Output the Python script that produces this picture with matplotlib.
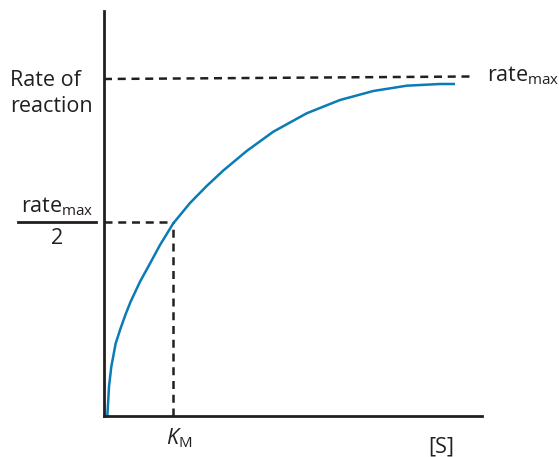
import matplotlib
matplotlib.use("Agg")
import matplotlib.pyplot as plt

plt.rcParams['font.family'] = ['Open Sans', 'DejaVu Sans']
plt.rcParams['mathtext.fontset'] = 'custom'
plt.rcParams['mathtext.rm'] = 'Open Sans'
plt.rcParams['mathtext.it'] = 'Open Sans:italic'

# curve values (substrate concentration vs rate)
substrate = [3.3, 4.2, 5.0, 7.3, 11.7, 16.7, 21.7, 26.7, 36, 46, 56, 69.3, 86, 102.7, 119.3,
             142.7, 169.3, 202.7, 236, 269.3, 302.7, 336, 351]
rate = [0, 15, 29.3, 49.3, 72.7, 88, 102, 114.5, 134.3, 152.5, 171, 192.7, 213, 230, 245.5,
        265, 284.3, 302.7, 316, 325, 330.3, 332, 332]

rate_max_line = [337, 339.5]   # dashed line at left / right end
rate_max_x = [0, 366]
km = 69.3
half_rate = 194

W, H = 559, 457
fig = plt.figure(figsize=(W / 100, H / 100), dpi=100)
x0, x1, y0, y1 = 104, 482, 416, 11
ax = fig.add_axes([x0 / W, (H - y0) / H, (x1 - x0) / W, (y0 - y1) / H])
ax.set_xlim(0, x1 - x0)
ax.set_ylim(0, y0 - y1)
for s in ['top', 'right']:
    ax.spines[s].set_visible(False)
for s in ['left', 'bottom']:
    ax.spines[s].set_linewidth(2.0)
    ax.spines[s].set_color('#231f20')
ax.set_xticks([])
ax.set_yticks([])

dash = dict(color='#231f20', lw=1.8, linestyle=(0, (3.2, 2.3)))
ax.plot(rate_max_x, rate_max_line, **dash)
ax.plot([0, km], [half_rate, half_rate], **dash)
ax.plot([km, km], [0, half_rate], **dash)
ax.plot(substrate, rate, color='#0a7bb5', lw=1.8, solid_capstyle='butt', solid_joinstyle='round')

fs = 15.5
col = '#231f20'
fig.text(10 / W, 1 - 81 / H, 'Rate of', fontsize=fs, va='center', ha='left', color=col)
fig.text(10 / W, 1 - 106 / H, 'reaction', fontsize=fs, va='center', ha='left', color=col)
fig.text(487 / W, 1 - 76 / H, r'rate$_{\mathrm{max}}$', fontsize=fs, va='center', ha='left', color=col)
fig.text(57 / W, 1 - 207 / H, r'rate$_{\mathrm{max}}$', fontsize=fs, va='center', ha='center', color=col)
fig.add_artist(plt.Line2D([18 / W, 96 / W], [1 - 222 / H, 1 - 222 / H], color=col, lw=2.0,
                          transform=fig.transFigure))
fig.text(57 / W, 1 - 239 / H, '2', fontsize=fs, va='center', ha='center', color=col)
fig.text(179 / W, 1 - 438 / H, r'$K_{\mathrm{M}}$', fontsize=fs, va='center', ha='center', color=col)
fig.text(441 / W, 1 - 447 / H, '[S]', fontsize=fs, va='center', ha='center', color=col)

fig.savefig('out.png', dpi=100)
